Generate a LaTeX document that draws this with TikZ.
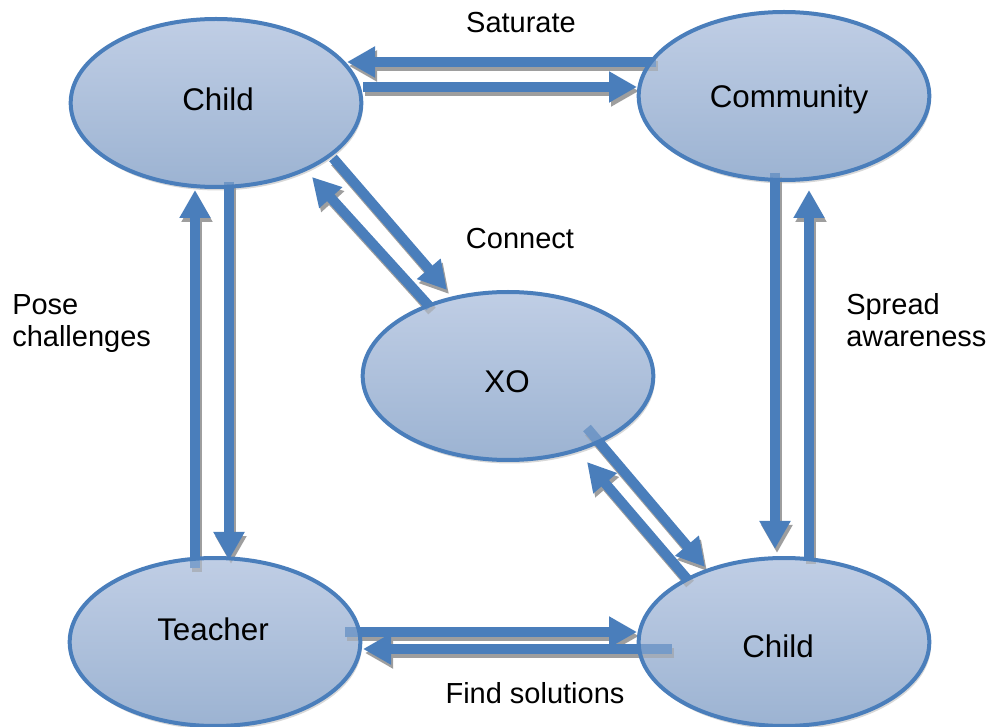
\documentclass[tikz,border=0pt]{standalone}
\usepackage{fontspec}
\setmainfont{Liberation Sans}
\usetikzlibrary{arrows.meta,calc,shadows,shapes.geometric}

\pgfdeclarelayer{base}
\pgfdeclarelayer{flows}
\pgfsetlayers{base,flows,main}

\definecolor{edge}{RGB}{74,126,187}
\definecolor{flowblue}{RGB}{74,126,187}
\definecolor{topfill}{RGB}{192,206,229}
\definecolor{botfill}{RGB}{156,179,210}

\tikzset{
  ellbase/.style={ellipse, minimum width=218pt, minimum height=126pt, inner sep=0pt,
    top color=topfill, bottom color=botfill, draw=none,
    drop shadow={shadow xshift=1.2pt, shadow yshift=-2.6pt, fill=black!22, opacity=0.7}},
  ellfront/.style={ellipse, minimum width=218pt, minimum height=126pt, inner sep=0pt,
    draw=edge, line width=3pt, top color=topfill, bottom color=botfill, fill opacity=0.45},
  nodetext/.style={font=\fontsize{23.5pt}{28pt}\selectfont, inner sep=0pt},
  caption/.style={font=\fontsize{21.75pt}{24pt}\selectfont, inner sep=0pt, align=left},
  flow/.style={draw=flowblue, line width=7.5pt, -{Triangle[length=21pt,width=22pt]}},
  flowshade/.style={draw=black!38, line width=7.5pt, -{Triangle[length=21pt,width=22pt]},
    transform canvas={xshift=1.5pt,yshift=-3pt}},
}

% a thick block arrow with its shadow
\newcommand{\flowarrow}[2]{\draw[flowshade] #1 -- #2; \draw[flow] #1 -- #2;}

\begin{document}
\begin{tikzpicture}[x=0.75pt, y=-0.75pt]
\useasboundingbox (0,0) rectangle (990,727);

% the five ellipses
\node[ellfront] (c1) at (216,103) {};
\node[ellfront] (cm) at (784,96) {};
\node[ellfront] (xo) at (508,376) {};
\node[ellfront] (tc) at (215,642) {};
\node[ellfront] (c2) at (784,642) {};

% opaque bodies with shadows beneath everything
\begin{pgfonlayer}{base}
  \foreach \n in {c1,cm,xo,tc,c2} \node[ellbase] (\n-base) at (\n) {};
\end{pgfonlayer}

% texts inside the ellipses
\node[nodetext, anchor=base] (c1-text) at (218,111) {Child};
\node[nodetext, anchor=base] (cm-text) at (789,108) {Community};
\node[nodetext, anchor=base] (xo-text) at (507,393) {XO};
\node[nodetext, anchor=base] (tc-text) at (213,640) {Teacher};
\node[nodetext, anchor=base] (c2-text) at (778,657) {Child};

% connectors
\begin{pgfonlayer}{flows}
  % Child <-> Community
  \flowarrow{($(cm)+(-128,-34)$)}{($(c1)+(131,-41)$)}
  \flowarrow{($(c1)+(147,-16)$)}{($(cm)+(-147,-9)$)}
  % Child <-> Teacher
  \flowarrow{($(tc)+(-20,-74)$)}{($(c1)+(-21,87)$)}
  \flowarrow{($(c1)+(13,79)$)}{($(tc)+(14,-82)$)}
  % Community <-> Child
  \flowarrow{($(cm)+(-9,77)$)}{($(c2)+(-9,-93)$)}
  \flowarrow{($(c2)+(25,-82)$)}{($(cm)+(25,94)$)}
  % Child <-> XO
  \flowarrow{($(c1)+(117,55)$)}{($(xo)+(-61,-86)$)}
  \flowarrow{($(xo)+(-78,-69)$)}{($(c1)+(96,74)$)}
  % XO <-> Child
  \flowarrow{($(xo)+(79,52)$)}{($(c2)+(-79,-75)$)}
  \flowarrow{($(c2)+(-96,-62)$)}{($(xo)+(79,86)$)}
  % Teacher <-> Child
  \flowarrow{($(tc)+(130,-10)$)}{($(c2)+(-147,-10)$)}
  \flowarrow{($(c2)+(-112,7)$)}{($(tc)+(148,7)$)}
\end{pgfonlayer}

% captions (two-line ones are placed by their last baseline)
\node[caption, anchor=base] (saturate) at (521,33) {Saturate};
\node[caption, anchor=base] (connect) at (520,249) {Connect};
\node[caption, anchor=base west] (pose) at (12,347) {Pose\\challenges};
\node[caption, anchor=base west] (spread) at (846,347) {Spread\\awareness};
\node[caption, anchor=base] (find) at (535,703) {Find solutions};
\end{tikzpicture}
\end{document}
